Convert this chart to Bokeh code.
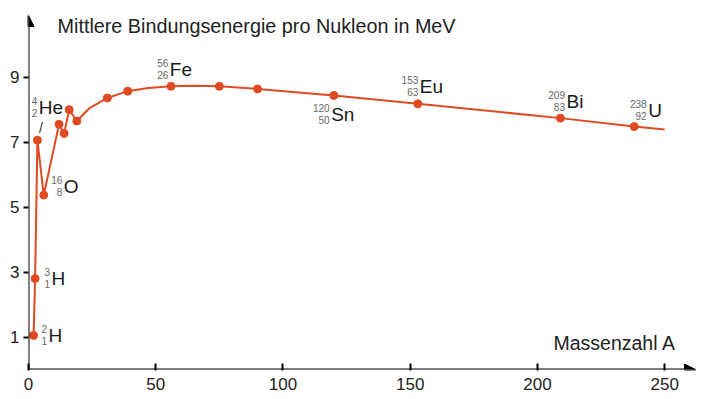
from bokeh.plotting import figure
from bokeh.models import Range1d, FixedTicker, Arrow, NormalHead, Label, ColumnDataSource
from bokeh.core.properties import value
from bokeh.embed import file_html
from bokeh.resources import INLINE

# ---- data ----
mass_number = [2, 2.6, 3.5, 6, 12, 14, 16, 19, 31, 39, 56, 75, 90, 120, 153, 209, 238]
binding_energy = [1.05, 2.8, 7.06, 5.37, 7.55, 7.27, 8.0, 7.65, 8.36, 8.57, 8.72, 8.72, 8.64, 8.44, 8.18, 7.74, 7.48]
# extra points on the drawn curve (no marker)
curve_a = [2, 2.6, 3.5, 6, 12, 14, 16, 19, 24, 31, 39, 47, 56, 65, 75, 90, 120, 153, 209, 238, 250]
curve_e = [1.05, 2.8, 7.06, 5.37, 7.55, 7.27, 8.0, 7.65, 8.05, 8.36, 8.57, 8.67, 8.72, 8.735, 8.72, 8.64, 8.44, 8.18, 7.74, 7.48, 7.39]

x_ticks = [0, 50, 100, 150, 200, 250]
y_ticks = [1, 3, 5, 7, 9]

# labelled nuclides: index into the point lists, symbol, mass number A, atomic number Z
lab_index = [0, 1, 2, 3, 10, 13, 14, 15, 16]
lab_symbol = ["H", "H", "He", "O", "Fe", "Sn", "Eu", "Bi", "U"]
lab_mass = ["2", "3", "4", "16", "56", "120", "153", "209", "238"]
lab_charge = ["1", "1", "2", "8", "26", "50", "63", "83", "92"]

title_text = "Mittlere Bindungsenergie pro Nukleon in MeV"
xlabel_text = "Massenzahl A"

# ---- layout / style ----
lab_dx = [15, 16.4, 1.4, 20, -1.2, -2.7, 1.9, 6.1, 14]
lab_dy = [0.6, -0.5, -33, -9, -16.8, 19, -17, -17, -15.7]

RED = "#e04a22"
FONT = "Liberation Sans"

p = figure(width=705, height=399, output_backend="svg", toolbar_location=None,
           x_range=Range1d(0, 262.1), y_range=Range1d(0, 10.9),
           min_border_left=28, min_border_right=10, min_border_top=15, min_border_bottom=30)
p.outline_line_color = None
p.grid.visible = False
p.background_fill_color = "white"

for ax in (p.xaxis[0], p.yaxis[0]):
    ax.axis_line_color = None
    ax.major_tick_line_color = "black"
    ax.major_tick_line_width = 2
    ax.minor_tick_line_color = None
    ax.major_label_text_font = FONT
    ax.major_label_text_font_size = "17px"
    ax.major_label_text_color = "#222222"

p.xaxis.ticker = FixedTicker(ticks=x_ticks)
p.yaxis.ticker = FixedTicker(ticks=y_ticks)
p.xaxis.major_tick_in = 6
p.xaxis.major_tick_out = 1
p.xaxis.major_label_standoff = 7
p.yaxis.major_tick_in = 0
p.yaxis.major_tick_out = 5
p.yaxis.major_label_standoff = 4

# axis lines with arrow heads
p.add_layout(Arrow(x_start=0, y_start=0, x_end=262.1, y_end=0, line_width=2, line_color="black",
                   end=NormalHead(size=11, fill_color="black", line_color="black")))
p.add_layout(Arrow(x_start=0, y_start=0, x_end=0, y_end=10.9, line_width=2, line_color="black",
                   end=NormalHead(size=11, fill_color="black", line_color="black")))

# curve and points
p.line(curve_a, curve_e, line_color=RED, line_width=2)
p.scatter(mass_number, binding_energy, size=8, fill_color=RED, line_color=RED)

# nuclide labels
lx = [mass_number[i] for i in lab_index]
ly = [binding_energy[i] for i in lab_index]
src = ColumnDataSource(dict(x=lx, y=ly, sym=lab_symbol, a=lab_mass, z=lab_charge,
                            dx=lab_dx, dy=lab_dy,
                            ndx=[d - 1.5 for d in lab_dx],
                            ady=[d - 6.5 for d in lab_dy],
                            zdy=[d + 5.5 for d in lab_dy]))
p.text(x="x", y="y", text="sym", x_offset="dx", y_offset="dy", source=src,
       text_font=value(FONT), text_font_size="19px", text_color="#1a1a1a",
       text_align="left", text_baseline="middle")
p.text(x="x", y="y", text="a", x_offset="ndx", y_offset="ady", source=src,
       text_font=value(FONT), text_font_size="10px", text_color="#666666",
       text_align="right", text_baseline="middle")
p.text(x="x", y="y", text="z", x_offset="ndx", y_offset="zdy", source=src,
       text_font=value(FONT), text_font_size="10px", text_color="#666666",
       text_align="right", text_baseline="middle")

# slash linking the He label to its point
p.text(x=[mass_number[2]], y=[binding_energy[2]], text=["/"], x_offset=1.5, y_offset=-12,
       text_font=value(FONT), text_font_size="14px", text_color="#333333",
       text_align="left", text_baseline="middle")

p.add_layout(Label(x=11.4, y=10.57, text=title_text, text_font=FONT, text_font_size="19.8px",
                   text_color="#222222", text_baseline="middle", text_align="left"))
p.add_layout(Label(x=206.3, y=0.815, text=xlabel_text, text_font=FONT, text_font_size="19.5px",
                   text_color="#222222", text_baseline="middle", text_align="left"))

open("out.html", "w").write(file_html(p, INLINE))
